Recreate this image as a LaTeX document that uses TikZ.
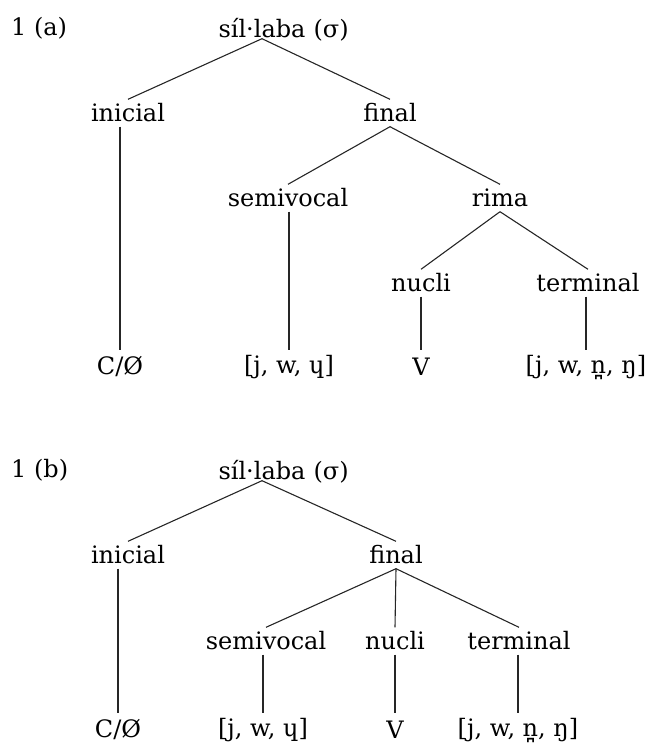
\documentclass[tikz,border=0pt]{standalone}
\usepackage{fontspec}
\setmainfont{DejaVu Serif}
\begin{document}
\begin{tikzpicture}[x=1pt,y=-1pt,
  word/.style={inner sep=0pt, minimum height=27pt, font=\fontsize{24}{28}\selectfont},
  leaf/.style={word, minimum height=34pt},
  toplabel/.style={word, minimum height=21pt},
  edge/.style={draw=black!85, line width=1.1pt}]
\useasboundingbox (0,0) rectangle (652,753);

% ---------- 1 (a): syllable with a rhyme ----------
\node[toplabel, anchor=west] (numa) at (11,28) {1 (a)};
\node[toplabel] (rta) at (262,28) {síl·laba};
\node[toplabel, anchor=base west] (sga) at (rta.base east) {\ (σ)};
\node[word] (inia) at (128,113) {inicial};
\node[word] (fina) at (390,113) {final};
\node[word] (sva) at (288,198) {semivocal};
\node[word] (rima) at (500,198) {rima};
\node[word] (nua) at (421,283) {nucli};
\node[word] (tea) at (588,283) {terminal};
\node[leaf] (cza) at (120,367) {C/Ø};
\node[leaf] (gla) at (289,367) {[j, w, ɥ]};
\node[leaf] (va) at (421,367) {V};
\node[leaf] (coa) at (586,367) {[j, w, n̪, ŋ]};

\draw[edge] (rta.south) -- (inia.north);
\draw[edge] (rta.south) -- (fina.north);
\draw[edge] (fina.south) -- (sva.north);
\draw[edge] (fina.south) -- (rima.north);
\draw[edge] (rima.south) -- (nua.north);
\draw[edge] (rima.south) -- (tea.north);
\draw[edge] (cza.north |- inia.south) -- (cza.north);
\draw[edge] (gla.north |- sva.south) -- (gla.north);
\draw[edge] (nua.south) -- (va.north);
\draw[edge] (coa.north |- tea.south) -- (coa.north);

% ---------- 1 (b): flat final ----------
\node[toplabel, anchor=west] (numb) at (11,470) {1 (b)};
\node[toplabel] (rtb) at (262,470) {síl·laba};
\node[toplabel, anchor=base west] (sgb) at (rtb.base east) {\ (σ)};
\node[word] (inib) at (128,555) {inicial};
\node[word] (finb) at (396,555) {final};
\node[word] (svb) at (266,641) {semivocal};
\node[word] (nub) at (395,641) {nucli};
\node[word] (teb) at (519,641) {terminal};
\node[leaf] (czb) at (118,730) {C/Ø};
\node[leaf] (glb) at (263,730) {[j, w, ɥ]};
\node[leaf] (vb) at (395,730) {V};
\node[leaf] (cob) at (518,730) {[j, w, n̪, ŋ]};

\draw[edge] (rtb.south) -- (inib.north);
\draw[edge] (rtb.south) -- (finb.north);
\draw[edge] (finb.south) -- (svb.north);
\draw[edge] (finb.south) -- (nub.north);
\draw[edge] (finb.south) -- (teb.north);
\draw[edge] (czb.north |- inib.south) -- (czb.north);
\draw[edge] (glb.north |- svb.south) -- (glb.north);
\draw[edge] (vb.north |- nub.south) -- (vb.north);
\draw[edge] (cob.north |- teb.south) -- (cob.north);
\end{tikzpicture}
\end{document}
